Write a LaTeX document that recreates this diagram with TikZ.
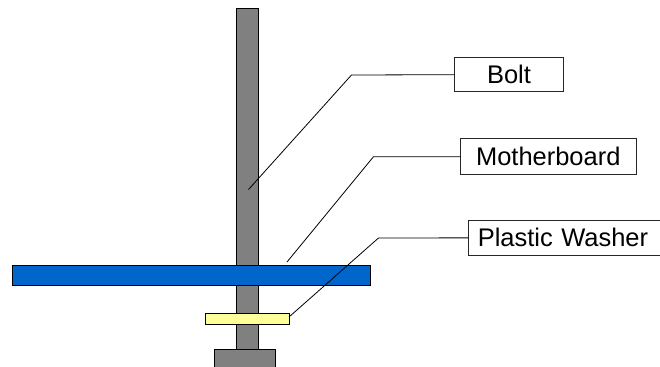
\documentclass[tikz,border=0pt]{standalone}
\usepackage{fontspec}
\setmainfont{Liberation Sans}
\definecolor{boltgray}{RGB}{128,128,128}
\definecolor{boardblue}{RGB}{0,102,204}
\definecolor{washeryellow}{RGB}{255,255,153}
\tikzset{
  part/.style={draw=black,line width=0.75pt,inner sep=0pt,outer sep=0pt,anchor=north west},
  lbl/.style={draw=black!85,fill=white,line width=0.75pt,inner sep=0pt,outer sep=0pt,anchor=north west,font=\fontsize{19.1pt}{22pt}\selectfont},
  lead/.style={draw=black,line width=0.6pt}
}
\begin{document}
\begin{tikzpicture}[x=0.75pt,y=-0.75pt]
\useasboundingbox (0,0) rectangle (660,367);
\begin{scope}
\clip (0,0) rectangle (660,367);
\node[part,fill=boltgray,minimum width=22pt*0.75,minimum height=340pt*0.75] (bolt) at (236,9) {};
\node[part,fill=boltgray,minimum width=61pt*0.75,minimum height=30pt*0.75] (head) at (214.5,349) {};
\node[part,fill=boardblue,minimum width=358pt*0.75,minimum height=20.5pt*0.75] (board) at (12.5,265) {};
\node[part,fill=washeryellow,minimum width=84pt*0.75,minimum height=11.5pt*0.75] (washer) at (205,313) {};
\node[lbl,minimum width=109pt*0.75,minimum height=34pt*0.75] (boltlabel) at (454.5,57.7) {Bolt};
\node[lbl,minimum width=175.5pt*0.75,minimum height=36.3pt*0.75] (mblabel) at (460.5,138.7) {Motherboard};
\node[lbl,minimum width=200pt*0.75,minimum height=34.3pt*0.75,text width=200pt*0.75-9pt*0.75,align=left,inner sep=0pt] (pwlabel) at (468.5,220.7) {\hspace*{3.6pt}Plastic Washer};
\coordinate (boltend) at (248.5,189.5);
\coordinate (boltbend) at (351.5,75);
\coordinate (mbend) at (287,262);
\coordinate (mbbend) at (373.5,156.7);
\coordinate (pwend) at (289,317);
\coordinate (pwbend) at (378.5,238);
\draw[lead] (boltend) -- (boltbend) -- (boltlabel.west);
\draw[lead] (mbend) -- (mbbend) -- (mblabel.west);
\draw[lead] (pwend) -- (pwbend) -- (pwlabel.west);
\end{scope}
\end{tikzpicture}
\end{document}
